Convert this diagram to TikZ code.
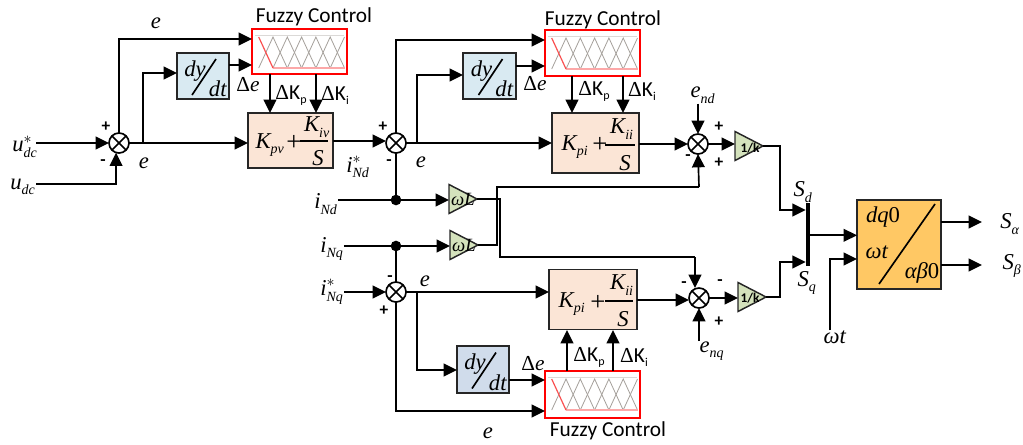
\documentclass[tikz,border=0pt]{standalone}
\usepackage{amsmath}
\usepackage{fontspec}
\setmainfont{Liberation Serif}
\newfontfamily\califont{Carlito}
\usetikzlibrary{shapes.geometric, arrows.meta, positioning}
\definecolor{diffblue}{RGB}{217, 234, 242}
\definecolor{diffslate}{RGB}{208, 220, 235}
\definecolor{gainpeach}{RGB}{251, 229, 214}
\definecolor{trigreen}{RGB}{212, 226, 188}
\definecolor{parkorange}{RGB}{255, 200, 100}
\definecolor{fuzzygray}{RGB}{165, 160, 155}
\definecolor{fuzzyred}{RGB}{250, 80, 80}
\newcommand{\sym}[3]{$\textit{#1}^{#2}_{\hbox{\fontsize{10.5}{10.5}\selectfont\itshape #3}}$}
\newcommand{\dk}[1]{Δ{\califont K\raisebox{-0.4ex}{\small #1}}}
\newcommand{\fuzzycurves}[1]{
    \begin{scope}[shift={(#1.north west)}]
        \draw[fuzzygray!40, thin] (3,6) -- (92,6);
        \foreach \p in {1,...,5} {
            \draw[fuzzygray, line width=0.6pt] ({6.7+14.3*(\p-1)},39) -- ({6.7+14.3*\p},8) -- ({6.7+14.3*(\p+1)},39);
        }
        \draw[fuzzygray, line width=0.6pt] (78.2,39) -- (92.5,8);
        \draw[fuzzyred!50, line width=0.8pt] (21,39) -- (92.5,39);
        \draw[fuzzyred, line width=0.9pt] (6.7,8) -- (21,39);
    \end{scope}
}
\tikzset{
    flow/.style={line width=1.25pt, -{Triangle[length=10pt,width=9.5pt]}},
    wire/.style={line width=1.25pt},
    boxsize/.style 2 args={minimum width=#1*0.75pt, minimum height=#2*0.75pt, inner sep=0pt, outer sep=0pt},
    fuzzybox/.style={draw=red, line width=1.5pt, fill=white},
    diffbox/.style={draw=black!85, line width=1.25pt},
    gainbox/.style={draw=black!85, line width=1.4pt, fill=gainpeach},
    sumnode/.style={circle, draw, line width=1.25pt, fill=white, minimum size=15pt, inner sep=0pt, outer sep=0pt,
        path picture={
            \draw[line width=1.25pt] (path picture bounding box.south west) -- (path picture bounding box.north east);
            \draw[line width=1.25pt] (path picture bounding box.north west) -- (path picture bounding box.south east);
        }},
    gaintri/.style={isosceles triangle, isosceles triangle stretches, draw=black!85, line width=1.1pt, fill=trigreen,
        minimum width=29*0.75pt, minimum height=28*0.75pt, inner sep=0pt, outer sep=0pt, anchor=apex},
    junction/.style={circle, fill=black, minimum size=8pt, inner sep=0pt},
    mathlabel/.style={inner sep=0pt, font=\fontsize{17}{17}\selectfont},
    signlabel/.style={inner sep=0pt, font=\califont\bfseries\fontsize{13}{13}\selectfont},
    fuzzylabel/.style={inner sep=0pt, font=\califont\fontsize{16}{16}\selectfont},
    deltalabel/.style={inner sep=0pt, font=\fontsize{16}{16}\selectfont},
    plussign/.style={inner sep=0pt, font=\fontsize{20}{20}\selectfont},
    trilabel/.style={inner sep=0pt, font=\fontsize{14}{14}\selectfont},
    kfactor/.style={inner sep=0pt, font=\califont\bfseries\fontsize{10}{10}\selectfont}
}
\begin{document}
\begin{tikzpicture}[x=0.75pt, y=-0.75pt]
    \useasboundingbox (0,0) rectangle (1023,444);

    % Summing points
    \node[sumnode] (sumA) at (119,143) {};
    \node[sumnode] (sumB) at (396,143) {};
    \node[sumnode] (sumC) at (698,144) {};
    \node[sumnode] (sumD) at (396,292) {};
    \node[sumnode] (sumE) at (699,298) {};

    % Fuzzy blocks
    \node[fuzzybox, boxsize={95}{45}] (fuzzyA) at (299.5,51.5) {};
    \node[fuzzybox, boxsize={95}{46}] (fuzzyB) at (592.5,53) {};
    \node[fuzzybox, boxsize={95}{47}] (fuzzyC) at (592.5,394.5) {};
    \fuzzycurves{fuzzyA}
    \fuzzycurves{fuzzyB}
    \fuzzycurves{fuzzyC}
    \node[fuzzylabel] (fuzzyAt) at (314,17) {Fuzzy Control};
    \node[fuzzylabel] (fuzzyBt) at (603,20) {Fuzzy Control};
    \node[fuzzylabel] (fuzzyCt) at (608,431) {Fuzzy Control};

    % Derivative blocks
    \foreach \n/\x/\y/\w/\h/\c in {diffA/203/76/52/46/diffblue, diffB/489.5/76/53/46/diffblue, diffC/483/369.5/52/47/diffslate} {
        \node[diffbox, fill=\c, boxsize={\w}{\h}] (\n) at (\x,\y) {};
        \node[mathlabel] (\n top) at ([shift={(-8,-5)}]\n.center) {\textit{dy}};
        \node[mathlabel] (\n bot) at ([shift={(15,13)}]\n.center) {\textit{dt}};
        \draw[wire] ([shift={(-11,19)}]\n.center) -- ([shift={(13,-17)}]\n.center);
    }

    % PI blocks
    \node[gainbox, boxsize={85}{55}] (gainA) at (290.5,140.5) {};
    \node[mathlabel] (gainAk) at (270,145) {\sym{K}{}{pv}};
    \node[plussign] (gainAp) at (294,143) {+};
    \node[mathlabel] (gainAn) at (317,127) {\sym{K}{}{iv}};
    \node[mathlabel] (gainAd) at (318,158) {\textit{S}};
    \draw[wire] (300,141) -- (328,141);

    \node[gainbox, boxsize={87}{60}] (gainB) at (595.5,143) {};
    \node[mathlabel] (gainBk) at (575,147) {\sym{K}{}{pi}};
    \node[plussign] (gainBp) at (600,145) {+};
    \node[mathlabel] (gainBn) at (622,129) {\sym{K}{}{ii}};
    \node[mathlabel] (gainBd) at (625,163) {\textit{S}};
    \draw[wire] (605,145) -- (635,145);

    \node[gainbox, boxsize={88}{60}] (gainC) at (593,299.5) {};
    \node[mathlabel] (gainCk) at (572,304) {\sym{K}{}{pi}};
    \node[plussign] (gainCp) at (598,303) {+};
    \node[mathlabel] (gainCn) at (622,285) {\sym{K}{}{ii}};
    \node[mathlabel] (gainCd) at (623,319) {\textit{S}};
    \draw[wire] (605,301) -- (633,301);

    % Triangles
    \node[gaintri] (triA) at (477,199) {};
    \node[gaintri] (triB) at (478,245) {};
    \node[gaintri] (triC) at (763,146) {};
    \node[gaintri] (triD) at (766,297) {};
    \node[trilabel] (triAt) at (463,199) {\textit{ωL}};
    \node[trilabel] (triBt) at (464,245) {\textit{ωL}};
    \node[kfactor] (triCt) at (750,148) {1/k};
    \node[kfactor] (triDt) at (750,298) {1/k};

    % Switch bar and transform block
    \node[fill=black, minimum width=3pt, minimum height=63*0.75pt, inner sep=0pt] (bar) at (808,234.5) {};
    \node[draw=black!85, line width=1.4pt, fill=parkorange, boxsize={84}{89}] (park) at (899,244.5) {};
    \draw[wire] (879,284) -- (935,204);
    \node[mathlabel] (parkA) at (883,217) {\textit{dq}0};
    \node[mathlabel] (parkB) at (877,252) {\textit{ωt}};
    \node[mathlabel] (parkC) at (922,273) {\textit{αβ}0};

    % Outer labels
    \node[mathlabel] (uref) at (25,147) {\sym{u}{*}{dc}};
    \node[mathlabel] (udc) at (23,187) {\sym{u}{}{dc}};
    \node[mathlabel] (iNdref) at (358,167) {\sym{i}{*}{Nd}};
    \node[mathlabel] (iNd) at (326,204) {\sym{i}{}{Nd}};
    \node[mathlabel] (iNq) at (332,249) {\sym{i}{}{Nq}};
    \node[mathlabel] (iNqref) at (332,292) {\sym{i}{*}{Nq}};
    \node[mathlabel] (end) at (703,95) {\sym{e}{}{nd}};
    \node[mathlabel] (enq) at (712,351) {\sym{e}{}{nq}};
    \node[mathlabel] (Sd) at (803,192) {\sym{S}{}{d}};
    \node[mathlabel] (Sq) at (807,283) {\sym{S}{}{q}};
    \node[mathlabel] (wt) at (835,337) {\textit{ωt}};
    \node[mathlabel] (Sa) at (1010,224) {\sym{S}{}{α}};
    \node[mathlabel] (Sb) at (1012,266) {\sym{S}{}{β}};

    % Error labels and signs
    \foreach \x/\y [count=\i] in {156/23, 144/163, 421/162, 425/281, 488/433} {
        \node[mathlabel] (err\i) at (\x,\y) {\textit{e}};
    }
    \foreach \x/\y [count=\i] in {248/85, 535/84, 533/364} {
        \node[deltalabel] (derr\i) at (\x,\y) {Δ\textit{e}};
    }
    \foreach \x/\y/\t [count=\i] in {106/127/+, 103/163/-, 383/127/+, 389/163/-, 719/127/+, 719/163/+, 688/158/-, 390/279/-, 384/311/+, 684/285/-, 720/283/-, 719/322/+} {
        \node[signlabel] (sign\i) at (\x,\y) {\t};
    }
    \foreach \x/\y/\t [count=\i] in {291/95/p, 335/95/i, 594/91/p, 642/91/i, 589/357/p, 634/357/i} {
        \node[deltalabel] (dk\i) at (\x,\y) {\dk{\t}};
    }

    % Ports
    \coordinate (fuzzyAe) at (252,39);
    \coordinate (fuzzyAd) at (252,65);
    \coordinate (fuzzyBe) at (545,40);
    \coordinate (fuzzyBd) at (545,66);
    \coordinate (fuzzyCd) at (545,380);
    \coordinate (fuzzyCe) at (545,411);
    \coordinate (diffAin) at (177,73);
    \coordinate (diffBin) at (463,75);
    \coordinate (diffCin) at (457,370);
    \coordinate (kA) at (270,113);
    \coordinate (iA) at (316,113);
    \coordinate (kB) at (572,113);
    \coordinate (iB) at (623,113);
    \coordinate (kC) at (567,330);
    \coordinate (iC) at (613,330);
    \coordinate (tapA) at (143,143);
    \coordinate (tapB) at (417,143);
    \coordinate (tapD) at (417,291);
    \coordinate (crossC) at (699,187);
    \coordinate (crossE) at (695,257);

    % First loop
    \draw[flow] (36,143) -- (sumA);
    \draw[flow] (36,184) -| (sumA.253);
    \draw[flow] (sumA.north) |- (fuzzyAe);
    \draw[flow] (tapA) |- (diffAin);
    \draw[flow] (sumA.east) -- (gainA.west |- sumA);
    \draw[flow] (diffA.east |- fuzzyAd) -- (fuzzyAd);
    \draw[flow] (kA |- fuzzyA.south) -- (kA);
    \draw[flow] (iA |- fuzzyA.south) -- (iA);
    \draw[flow] (gainA.east |- 0,141) -- (sumB.west |- 0,141);

    % Upper current loop
    \draw[flow] (sumB.north) |- (fuzzyBe);
    \draw[flow] (tapB) |- (diffBin);
    \draw[flow] (sumB.east) -- (gainB.west |- sumB);
    \draw[flow] (diffB.east |- fuzzyBd) -- (fuzzyBd);
    \draw[flow] (kB |- fuzzyB.south) -- (kB);
    \draw[flow] (iB |- fuzzyB.south) -- (iB);
    \draw[flow] (gainB.east |- sumC) -- (sumC.west);
    \draw[flow] (end.south -| sumC) -- (sumC.north);
    \draw[flow] (sumC.east) -- (triC.lower side |- sumC);

    % Decoupling
    \draw[wire] (sumB.south) -- (396,200) node[junction] (dotA) {};
    \draw[flow] (iNd.east |- dotA) -- (triA.lower side |- dotA);
    \draw[wire] (396,246) node[junction] (dotB) {} -- (sumD.north);
    \draw[flow] (iNq.east |- dotB) -- (triB.lower side |- dotB);
    \draw[wire] (triA.apex) -- (500,199) |- (crossE);
    \draw[flow] (crossE) -- (crossE |- sumE.north);
    \draw[wire] (triB.apex) -- (497,245) |- (crossC);
    \draw[flow] (crossC) -- (sumC.south);

    % Lower current loop
    \draw[flow] (iNqref.east |- sumD) -- (sumD);
    \draw[flow] (sumD.east) -- (gainC.west |- sumD);
    \draw[flow] (tapD) |- (diffCin);
    \draw[flow] (sumD.south) |- (fuzzyCe);
    \draw[flow] (diffC.east |- fuzzyCd) -- (fuzzyCd);
    \draw[flow] (kC |- fuzzyC.north) -- (kC);
    \draw[flow] (iC |- fuzzyC.north) -- (iC);
    \draw[flow] (gainC.east |- 0,300) -- (sumE.west |- 0,300);
    \draw[flow] (enq.north -| sumE) -- (sumE.south);
    \draw[flow] (sumE.east) -- (triD.lower side |- sumE);

    % Output stage
    \draw[flow] (triC.apex) -- (780,146) |- (bar.west |- 0,210);
    \draw[flow] (triD.apex) -- (780,297) |- (bar.west |- 0,262);
    \draw[flow] (bar.east |- 0,235.3) -- (park.west |- 0,235.3);
    \draw[flow] (wt.north -| 830,0) |- (park.west |- 0,259);
    \draw[flow] (park.east |- 0,222) -- (982,222);
    \draw[flow] (park.east |- 0,265) -- (982,265);
\end{tikzpicture}
\end{document}
